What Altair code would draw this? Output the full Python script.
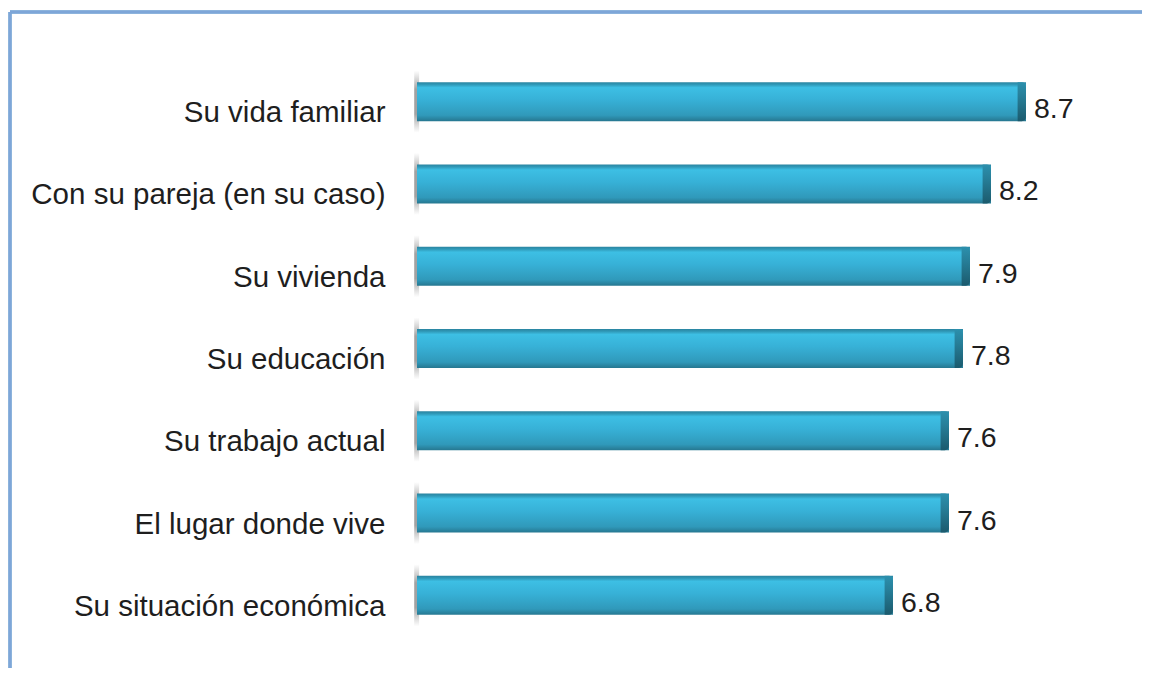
import altair as alt
import pandas as pd

categories = [
    "Su vida familiar",
    "Con su pareja (en su caso)",
    "Su vivienda",
    "Su educación",
    "Su trabajo actual",
    "El lugar donde vive",
    "Su situación económica",
]
values = [8.7, 8.2, 7.9, 7.8, 7.6, 7.6, 6.8]
value_labels = ["8.7", "8.2", "7.9", "7.8", "7.6", "7.6", "6.8"]

df = pd.DataFrame({"cat": categories, "val": values, "lbl": value_labels})

FONT = "Liberation Sans"
BAR_OFF = -7.5

y_enc = alt.Y(
    "cat:N",
    sort=categories,
    scale=alt.Scale(paddingInner=0, paddingOuter=0),
    axis=alt.Axis(
        title=None, domain=False, ticks=False, labelPadding=32,
        labelFontSize=29.5, labelFont=FONT, labelColor="#1e1e1e",
        labelLimit=0, labelOffset=4,
    ),
)
x_scale = alt.Scale(domain=[0, 10], nice=False, zero=True)

face_grad = alt.Gradient(
    gradient="linear", x1=0, y1=0, x2=0, y2=1,
    stops=[
        alt.GradientStop(offset=0.0, color="#2A84A0"),
        alt.GradientStop(offset=0.06, color="#2F98B7"),
        alt.GradientStop(offset=0.14, color="#3DBFE4"),
        alt.GradientStop(offset=0.45, color="#37B1D7"),
        alt.GradientStop(offset=0.85, color="#3099BA"),
        alt.GradientStop(offset=1.0, color="#267790"),
    ],
)
cap_grad = alt.Gradient(
    gradient="linear", x1=0, y1=0, x2=0, y2=1,
    stops=[
        alt.GradientStop(offset=0.0, color="#2C90AD"),
        alt.GradientStop(offset=0.35, color="#277F99"),
        alt.GradientStop(offset=1.0, color="#1B5A6D"),
    ],
)
fin_grad = alt.Gradient(
    gradient="linear", x1=0, y1=0, x2=0, y2=1,
    stops=[
        alt.GradientStop(offset=0.0, color="rgba(120,120,120,0)"),
        alt.GradientStop(offset=0.3, color="rgba(100,100,100,0.6)"),
        alt.GradientStop(offset=0.7, color="rgba(100,100,100,0.6)"),
        alt.GradientStop(offset=1.0, color="rgba(120,120,120,0)"),
    ],
)

base = alt.Chart(df)

bars = base.mark_bar(size=39, color=face_grad, yOffset=BAR_OFF).encode(
    y=y_enc,
    x=alt.X("val:Q", scale=x_scale, axis=None),
)

caps = base.transform_calculate(c0="datum.val - 0.12").mark_bar(
    size=39, color=cap_grad, yOffset=BAR_OFF,
    cornerRadiusTopRight=5, cornerRadiusBottomRight=7,
).encode(
    y=alt.Y("cat:N", sort=categories),
    x=alt.X("c0:Q", scale=x_scale, axis=None),
    x2="val:Q",
)

fins = base.transform_calculate(f0="-0.04", f1="0.03").mark_bar(
    size=62, color=fin_grad, yOffset=BAR_OFF,
).encode(
    y=alt.Y("cat:N", sort=categories),
    x=alt.X("f0:Q", scale=x_scale, axis=None),
    x2="f1:Q",
)

texts = base.mark_text(
    align="left", baseline="middle", dx=8, fontSize=28.5, font=FONT,
    color="#1e1e1e",
).encode(
    y=alt.Y("cat:N", sort=categories),
    x=alt.X("val:Q", scale=x_scale, axis=None),
    text="lbl:N",
)

frame_color = "#7EA6D8"
top_rule = alt.Chart(df).mark_rule(color=frame_color, strokeWidth=2.5).encode(
    x=alt.value(-407), x2=alt.value(760), y=alt.value(-56)
)
left_rule = alt.Chart(df).mark_rule(color=frame_color, strokeWidth=2.5).encode(
    x=alt.value(-407), y=alt.value(-56), y2=alt.value(640)
)

chart = alt.layer(top_rule, left_rule, fins, bars, caps, texts).properties(
    width=700,
    height=576,
    padding={"left": 409, "top": 60, "right": 25, "bottom": 24},
    autosize=alt.AutoSizeParams(type="none"),
    background="white",
).configure_view(strokeWidth=0)

chart.save("out.html", embed_options={"renderer": "svg", "actions": False})
